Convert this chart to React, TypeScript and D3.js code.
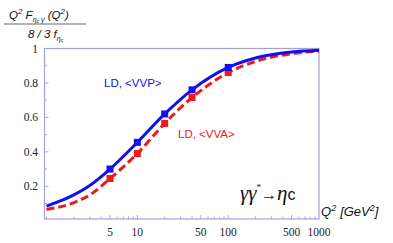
import React from 'react'
import * as d3 from 'd3'

// Q^2 sample points (GeV^2) and the two normalised form factor curves
const q2 = [1, 2, 3, 5, 10, 20, 40, 100, 200, 500, 1000]
const vvp = [0.085, 0.15, 0.205, 0.3, 0.455, 0.62, 0.76, 0.89, 0.945, 0.98, 0.99]
const vva = [0.065, 0.105, 0.15, 0.245, 0.39, 0.565, 0.715, 0.86, 0.925, 0.97, 0.985]

const markQ2 = [5, 10, 20, 40, 100]
const markVVP = [0.3, 0.455, 0.62, 0.76, 0.89]
const markVVA = [0.245, 0.39, 0.565, 0.715, 0.86]

const xTickLabels = [5, 10, 50, 100, 500, 1000]
const yTicks = [0.2, 0.4, 0.6, 0.8, 1]

const W = 393
const H = 243
const frame = '#a3a3d6'
const blue = '#1010f0'
const red = '#f01818'
const serif = '"Liberation Serif", "DejaVu Serif", serif'
const sans = '"Liberation Sans", Arial, sans-serif'

export default function App() {
    const x = d3.scaleLog().domain([0.95, 1000]).range([44.5, 319])
    const y = d3.scaleLinear().domain([0.01, 1]).range([219, 48.5])

    const line = d3
        .line<number>()
        .x((d, i) => x(q2[i]))
        .y((d) => y(d))
        .curve(d3.curveMonotoneX)

    const minor: number[] = []
    for (let dec = 1; dec <= 100; dec *= 10)
        for (let k = 1; k <= 9; k++) minor.push(k * dec)
    minor.push(1000)

    const [x0, x1] = x.range()
    const [y0, y1] = y.range()

    return (
        <svg width={W} height={H} style={{ position: 'absolute', left: 0, top: 0 }}>
            <rect width={W} height={H} fill="white" />

            {/* y label as a fraction */}
            <g fontFamily={sans} fontStyle="italic" fontSize={11.5} fill="#111">
                <text x={9} y={19}>
                    Q<tspan fontSize={8} dy={-5}>2</tspan>
                    <tspan dy={5}> F</tspan>
                    <tspan fontSize={7} dy={3}>η</tspan>
                    <tspan fontSize={5} dy={1}>c</tspan>
                    <tspan fontSize={7} dy={-1}> γ</tspan>
                    <tspan dy={-3}> (Q</tspan>
                    <tspan fontSize={8} dy={-5}>2</tspan>
                    <tspan dy={5}>)</tspan>
                </text>
                <line x1={4} x2={86} y1={24} y2={24} stroke="#666" strokeWidth={1} />
                <text x={28} y={38}>
                    8 / 3 f<tspan fontSize={7} dy={3}>η</tspan>
                    <tspan fontSize={5} dy={1}>c</tspan>
                </text>
            </g>

            {/* frame */}
            <rect x={x0} y={y1} width={x1 - x0} height={y0 - y1} fill="none" stroke={frame} strokeWidth={1.2} />

            {/* x ticks */}
            {minor.filter((v) => x(v) > x0 + 1 && x(v) < x1 - 1).map((v) => (
                <line key={'mx' + v} x1={x(v)} x2={x(v)} y1={y0} y2={y0 - (xTickLabels.includes(v) ? 4 : 2.5)} stroke={frame} />
            ))}
            {xTickLabels.map((v) => (
                <text key={'xl' + v} x={x(v)} y={236} textAnchor="middle" fontFamily={serif} fontSize={11.5} fill="#222">
                    {v}
                </text>
            ))}

            {/* y ticks */}
            {yTicks.map((v) => (
                <g key={'y' + v}>
                    <line x1={x0} x2={x0 + 4} y1={y(v)} y2={y(v)} stroke={frame} />
                    <text x={38} y={y(v) + 4} textAnchor="end" fontFamily={serif} fontSize={11.5} fill="#222">
                        {v}
                    </text>
                </g>
            ))}
            {d3.range(0.1, 1, 0.2).map((v) => (
                <line key={'my' + v} x1={x0} x2={x0 + 2.5} y1={y(v)} y2={y(v)} stroke={frame} />
            ))}

            {/* curves */}
            <path d={line(vva) ?? ''} fill="none" stroke={red} strokeWidth={3} strokeDasharray="8,4" />
            <path d={line(vvp) ?? ''} fill="none" stroke={blue} strokeWidth={3} />

            {markVVA.map((v, i) => (
                <rect key={'ra' + i} x={x(markQ2[i]) - 3.5} y={y(v) - 3.5} width={7} height={7} fill={red} />
            ))}
            {markVVP.map((v, i) => (
                <rect key={'rp' + i} x={x(markQ2[i]) - 3.5} y={y(v) - 3.5} width={7} height={7} fill={blue} />
            ))}

            {/* legend texts */}
            <text x={104} y={87} fontFamily={sans} fontSize={11.5} fill={blue}>LD, &lt;VVP&gt;</text>
            <text x={178} y={138} fontFamily={sans} fontSize={11.5} fill={red}>LD, &lt;VVA&gt;</text>

            {/* process label */}
            <text x={240} y={200} fontFamily={serif} fontSize={21} fill="#111">
                <tspan fontStyle="italic">γγ</tspan>
                <tspan fontSize={9} dy={-10}>*</tspan>
                <tspan dy={10} fontSize={16}>→</tspan>
                <tspan fontStyle="italic">η</tspan>
                <tspan fontFamily={sans} fontSize={16}>c</tspan>
            </text>

            {/* x label */}
            <text x={321} y={216} fontFamily={sans} fontStyle="italic" fontSize={13} fill="#111">
                Q<tspan fontSize={9} dy={-5}>2</tspan>
                <tspan dy={5} dx={4}>[GeV</tspan>
                <tspan fontSize={9} dy={-5}>2</tspan>
                <tspan dy={5}>]</tspan>
            </text>
        </svg>
    )
}
